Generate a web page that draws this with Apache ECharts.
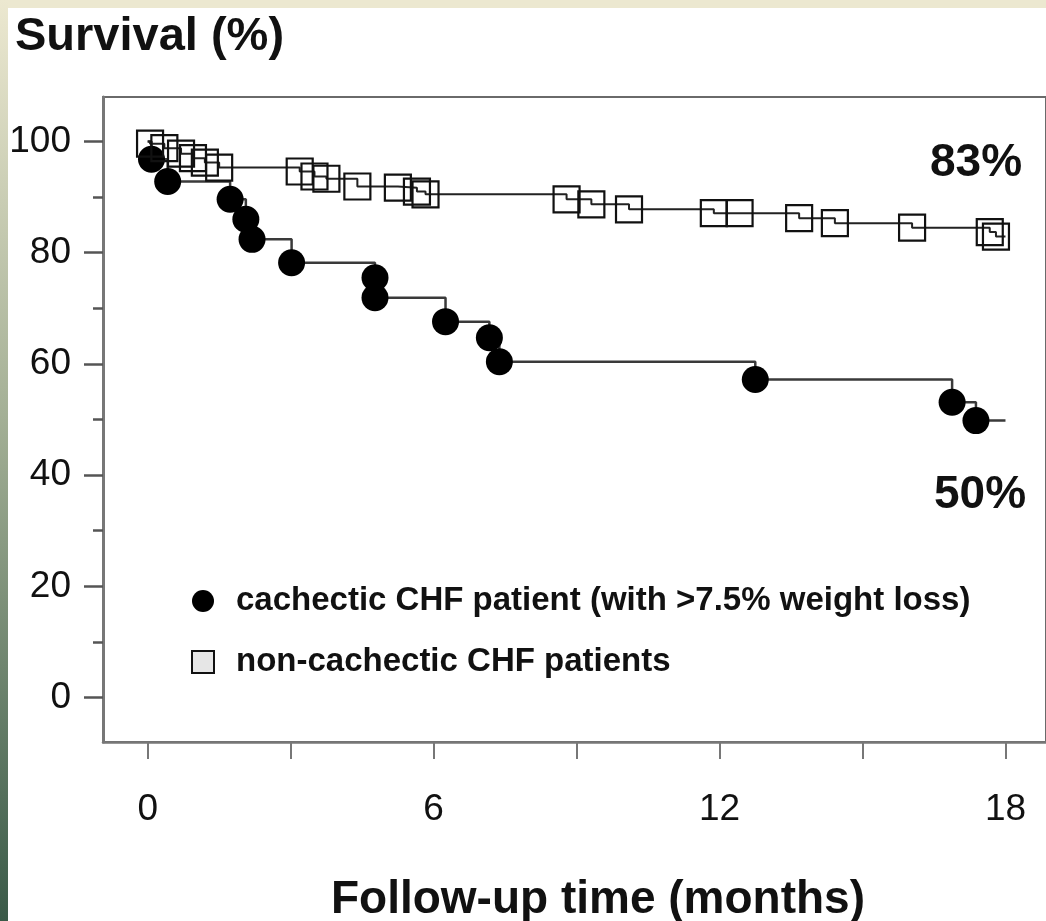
<!DOCTYPE html>
<html>
<head>
<meta charset="utf-8">
<title>Survival</title>
<script src="https://cdn.jsdelivr.net/npm/echarts/dist/echarts.min.js"></script>
<style>
  html, body { margin: 0; padding: 0; background: #fff; }
  #chart { width: 1046px; height: 921px; }
</style>
</head>
<body>
<div id="chart"></div>
<script>
// cachectic CHF patients (filled circles), first and last points are the curve start / end
var cachecticMonths = [0, 0.08, 0.42, 1.73, 2.06, 2.19, 3.02, 4.77, 4.77, 6.25, 7.17, 7.38, 12.75, 16.88, 17.38, 18];
var cachecticSurvival = [100, 96.8, 92.8, 89.6, 86, 82.4, 78.2, 75.5, 71.9, 67.6, 64.7, 60.4, 57.2, 53.1, 49.8, 49.8];

// non-cachectic CHF patients (open squares)
var nonCachecticMonths = [0, 0.05, 0.35, 0.7, 0.95, 1.2, 1.5, 3.19, 3.5, 3.75, 4.4, 5.25, 5.65, 5.83, 8.79, 9.31, 10.1, 11.88, 12.42, 13.67, 14.42, 16.04, 17.67, 17.8, 18];
var nonCachecticSurvival = [100, 99.6, 98.8, 97.8, 97.0, 96.2, 95.3, 94.6, 93.7, 93.3, 91.9, 91.7, 91.0, 90.5, 89.6, 88.7, 87.8, 87.1, 87.1, 86.2, 85.3, 84.5, 83.7, 82.9, 82.9];

var xMajorTicks = [0, 6, 12, 18];
var xMinorTicks = [0, 3, 6, 9, 12, 15, 18];
var yMajorTicks = [0, 20, 40, 60, 80, 100];
var yMinorTicks = [10, 30, 50, 70, 90];

var seriesNames = ['cachectic CHF patient (with >7.5% weight loss)', 'non-cachectic CHF patients'];
var endLabels = ['83%', '50%'];

function pairs(xs, ys) {
    var out = [];
    xs.forEach(function (x, i) {
        out.push([x, ys[i]]);
    });
    return out;
}

// no marker on the first (start) and last (end of follow-up) point
function markerAt(shape, n) {
    return function (val, params) {
        return (params.dataIndex === 0 || params.dataIndex === n - 1) ? 'none' : shape;
    };
}

var chart = echarts.init(document.getElementById('chart'));
var axisGrey = '#777';
var font = 'Liberation Sans, Arial, sans-serif';

chart.setOption({
    backgroundColor: '#fff',
    animation: false,
    grid: {
        left: 103,
        top: 97,
        width: 950,
        height: 645,
        show: true,
        backgroundColor: '#fff',
        borderColor: '#6a6a6a',
        borderWidth: 2
    },
    legend: {
        orient: 'vertical',
        left: 186,
        top: 578,
        itemWidth: 22,
        itemHeight: 22,
        itemGap: 25,
        selectedMode: false,
        textStyle: {
            fontFamily: font,
            fontWeight: 'bold',
            fontSize: 33,
            color: '#111',
            lineHeight: 36,
            padding: [0, 0, 0, 17]
        },
        data: [
            { name: seriesNames[0], icon: 'circle', itemStyle: { color: '#000', borderWidth: 0 } },
            { name: seriesNames[1], icon: 'rect', itemStyle: { color: '#e6e6e6', borderColor: '#111', borderWidth: 2 } }
        ]
    },
    xAxis: {
        type: 'value',
        min: -0.9375,
        max: 18.85,
        axisLine: { show: true, onZero: false, lineStyle: { color: axisGrey, width: 2.5 } },
        axisTick: {
            show: true,
            customValues: xMinorTicks,
            length: 17,
            inside: false,
            lineStyle: { color: axisGrey, width: 2 }
        },
        axisLabel: {
            customValues: xMajorTicks,
            margin: 68,
            verticalAlign: 'middle',
            fontFamily: font,
            fontSize: 37,
            color: '#111'
        },
        splitLine: { show: false }
    },
    yAxis: [{
        type: 'value',
        min: -8,
        max: 108,
        axisLine: { show: true, onZero: false, lineStyle: { color: axisGrey, width: 3 } },
        axisTick: {
            show: true,
            customValues: yMajorTicks,
            length: 19,
            lineStyle: { color: '#555', width: 2.5 }
        },
        axisLabel: {
            customValues: yMajorTicks,
            margin: 32,
            fontFamily: font,
            fontSize: 37,
            color: '#111'
        },
        splitLine: { show: false }
    }, {
        type: 'value',
        position: 'left',
        min: -8,
        max: 108,
        axisLine: { show: false, onZero: false },
        axisTick: {
            show: true,
            customValues: yMinorTicks,
            length: 10,
            lineStyle: { color: '#555', width: 2.5 }
        },
        axisLabel: { show: false },
        splitLine: { show: false }
    }],
    graphic: [{
        type: 'rect',
        shape: { x: 0, y: 0, width: 1046, height: 8 },
        style: { fill: '#ece8d0' },
        silent: true
    }, {
        type: 'rect',
        shape: { x: 0, y: 0, width: 8, height: 921 },
        style: {
            fill: new echarts.graphic.LinearGradient(0, 0, 0, 1, [
                { offset: 0, color: '#ece8d0' },
                { offset: 0.45, color: '#a4b096' },
                { offset: 1, color: '#3a5a48' }
            ])
        },
        silent: true
    }, {
        type: 'text',
        left: 15,
        top: 14,
        style: { text: 'Survival (%)', fontFamily: font, fontWeight: 'bold', fontSize: 47, fill: '#111' }
    }, {
        type: 'text',
        x: 598,
        y: 900,
        style: { text: 'Follow-up time (months)', fontFamily: font, fontWeight: 'bold', fontSize: 46, fill: '#111', align: 'center', verticalAlign: 'middle' }
    }, {
        type: 'text',
        x: 976,
        y: 163,
        style: { text: endLabels[0], fontFamily: font, fontWeight: 'bold', fontSize: 46, fill: '#111', align: 'center', verticalAlign: 'middle' }
    }, {
        type: 'text',
        x: 980,
        y: 495,
        style: { text: endLabels[1], fontFamily: font, fontWeight: 'bold', fontSize: 46, fill: '#111', align: 'center', verticalAlign: 'middle' }
    }],
    series: [{
        name: seriesNames[1],
        type: 'line',
        step: 'end',
        data: pairs(nonCachecticMonths, nonCachecticSurvival),
        showAllSymbol: true,
        symbol: markerAt('rect', nonCachecticMonths.length),
        symbolSize: 26,
        lineStyle: { color: '#222', width: 2 },
        itemStyle: { color: 'rgba(255,255,255,0)', borderColor: '#111', borderWidth: 2.2 },
        z: 3
    }, {
        name: seriesNames[0],
        type: 'line',
        step: 'end',
        data: pairs(cachecticMonths, cachecticSurvival),
        showAllSymbol: true,
        symbol: markerAt('circle', cachecticMonths.length),
        symbolSize: 27,
        lineStyle: { color: '#3a3a3a', width: 2.5 },
        itemStyle: { color: '#000', borderWidth: 0 },
        z: 2
    }]
});
</script>
</body>
</html>
